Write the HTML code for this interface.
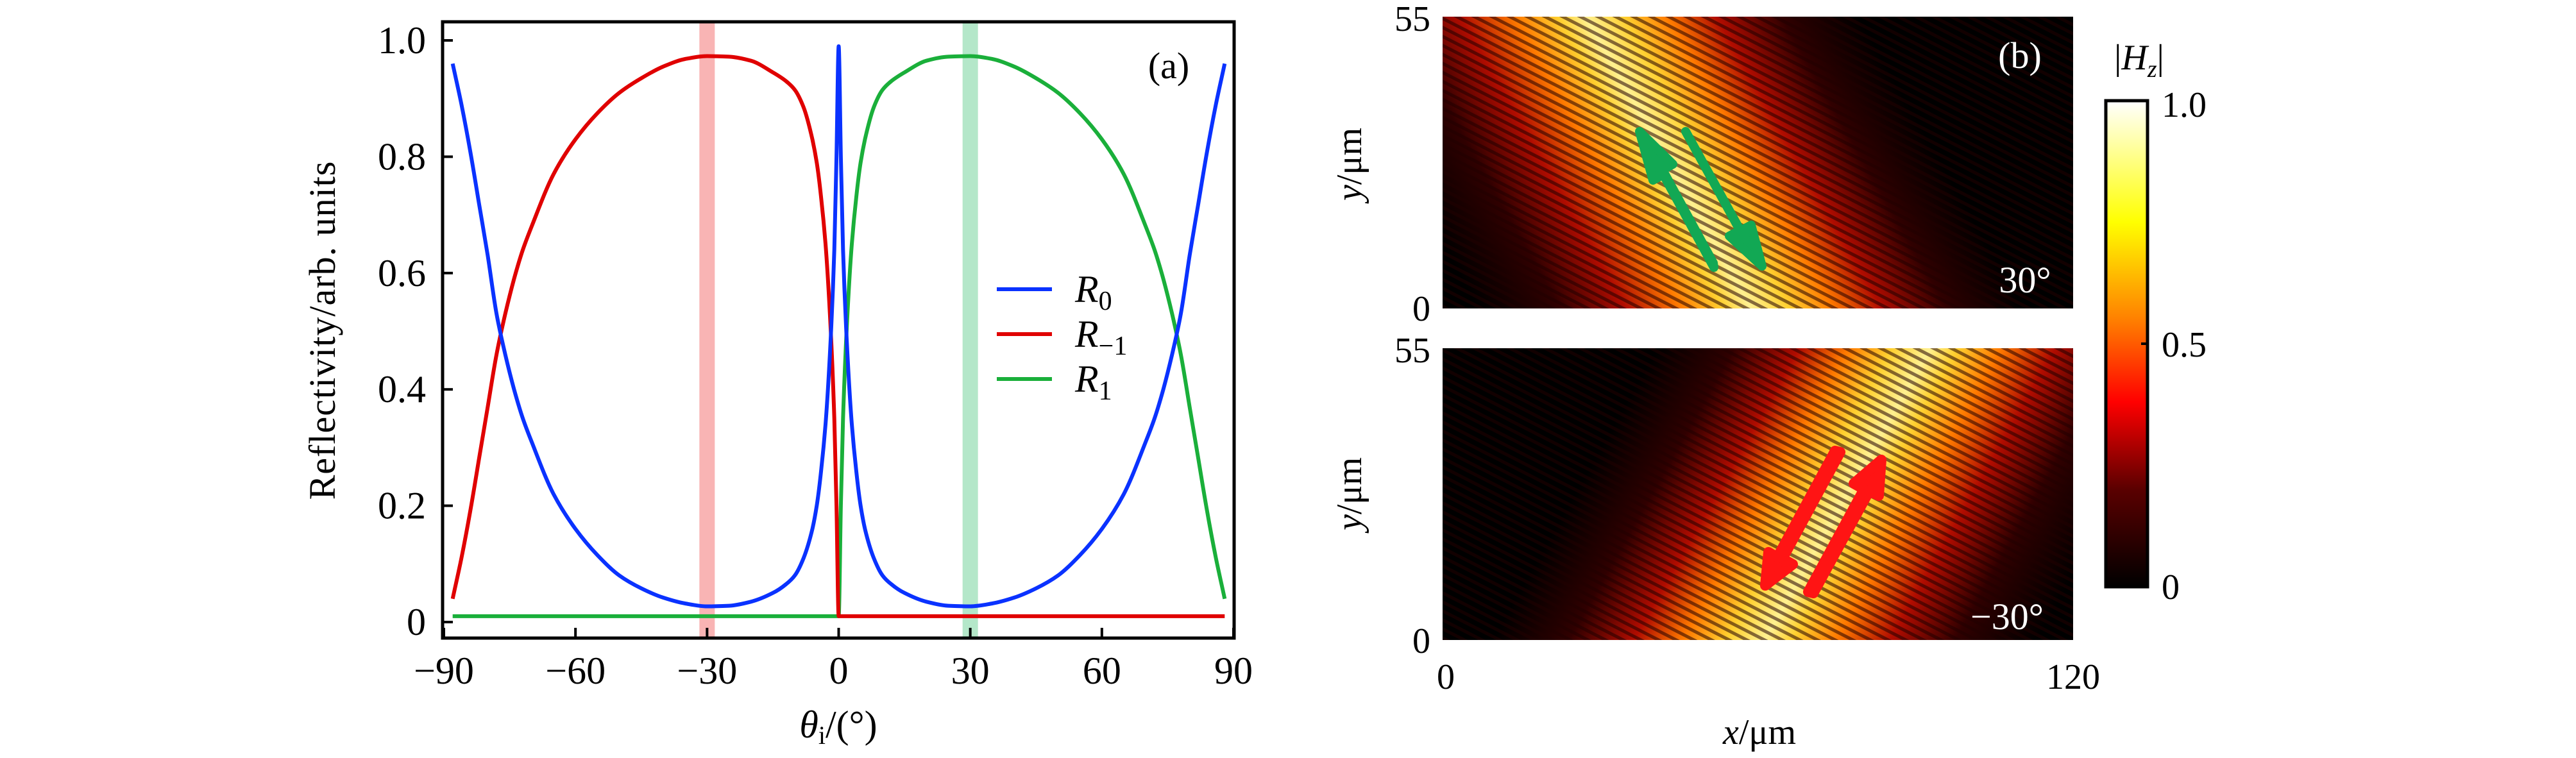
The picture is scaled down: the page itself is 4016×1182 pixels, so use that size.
<!DOCTYPE html>
<html><head><meta charset="utf-8">
<style>
html,body{margin:0;padding:0;background:#fff;}
svg{display:block;}
text{font-family:"Liberation Serif","DejaVu Serif",serif;}
</style></head>
<body>
<svg id="fig" width="4016" height="1182" viewBox="0 0 4016 1182" xmlns="http://www.w3.org/2000/svg" font-family="Liberation Serif, serif">
<defs>
  <linearGradient id="hotbar" x1="0" y1="1" x2="0" y2="0">
    <stop offset="0" stop-color="#000"/>
    <stop offset="0.2" stop-color="#5a0000"/>
    <stop offset="0.38" stop-color="#ff0000"/>
    <stop offset="0.55" stop-color="#ff8000"/>
    <stop offset="0.75" stop-color="#ffff00"/>
    <stop offset="1" stop-color="#ffffff"/>
  </linearGradient>
  <linearGradient id="beam" gradientUnits="userSpaceOnUse" x1="30" y1="410" x2="674" y2="45">
    <stop offset="0" stop-color="#000"/>
    <stop offset="0.15" stop-color="#300000"/>
    <stop offset="0.27" stop-color="#b00c00"/>
    <stop offset="0.37" stop-color="#ff7a00"/>
    <stop offset="0.45" stop-color="#ffd030"/>
    <stop offset="0.5" stop-color="#fff090"/>
    <stop offset="0.57" stop-color="#ffd030"/>
    <stop offset="0.65" stop-color="#ff7a00"/>
    <stop offset="0.74" stop-color="#b00c00"/>
    <stop offset="0.86" stop-color="#300000"/>
    <stop offset="1" stop-color="#000"/>
  </linearGradient>
  <linearGradient id="beam2" gradientUnits="userSpaceOnUse" x1="560" y1="0" x2="983" y2="0">
    <stop offset="0" stop-color="#3a0000" stop-opacity="0"/>
    <stop offset="0.35" stop-color="#3a0000" stop-opacity="0.9"/>
    <stop offset="0.6" stop-color="#3a0000" stop-opacity="0.7"/>
    <stop offset="1" stop-color="#200000" stop-opacity="0.3"/>
  </linearGradient>
  <pattern id="stripes" patternUnits="userSpaceOnUse" width="40" height="12.5" patternTransform="rotate(27)">
    <rect x="0" y="0" width="40" height="5" fill="#200000" opacity="0.55"/>
  </pattern>
  <clipPath id="hmclip"><rect x="0" y="0" width="983" height="455"/></clipPath>
</defs>

<g id="panelA"></g>

<g id="panelB">
  <g transform="translate(2249,26)">
    <g clip-path="url(#hmclip)">
      <rect width="983" height="455" fill="#000"/>
      <rect width="983" height="455" fill="url(#beam2)" transform="skewX(-20)"/>
      <rect x="-300" width="1600" height="455" fill="url(#beam)"/>
      <rect width="983" height="455" fill="url(#stripes)"/>
      <polygon points="423,391 344,246 328,255 307,179 359,230 343,239 422,384" fill="#12a854" stroke="#12a854" stroke-width="14" stroke-linejoin="round"/>
      <polygon points="379,179 464,334 481,325 498,389 447,342 464,333 379,179" fill="#12a854" stroke="#12a854" stroke-width="14" stroke-linejoin="round"/>
    </g>
    <text x="900" y="80" fill="#fff" font-size="58" text-anchor="middle">(b)</text>
    <text x="908" y="430" fill="#fff" font-size="58" text-anchor="middle">30°</text>
  </g>
  <g transform="translate(2249,543)">
    <g clip-path="url(#hmclip)">
      <rect width="983" height="455" fill="#000"/>
      <g transform="translate(983,0) scale(-1,1)">
        <rect width="983" height="455" fill="url(#beam2)" transform="skewX(-20)"/>
        <rect x="-300" width="1600" height="455" fill="url(#beam)"/>
      </g>
      <rect width="983" height="455" fill="url(#stripes)"/>
      <polygon points="620,162 530,328 546,337 503,370 508,318 522,326 612,160" fill="#ff1414" stroke="#ff1414" stroke-width="16" stroke-linejoin="round"/>
      <polygon points="570,380 657,220 641,211 684,174 680,230 665,223 578,382" fill="#ff1414" stroke="#ff1414" stroke-width="16" stroke-linejoin="round"/>
    </g>
    <text x="880" y="438" fill="#fff" font-size="58" text-anchor="middle">−30°</text>
  </g>
  <g font-size="56" fill="#000">
    <text x="2230" y="48" text-anchor="end">55</text>
    <text x="2230" y="500" text-anchor="end">0</text>
    <text x="2230" y="565" text-anchor="end">55</text>
    <text x="2230" y="1018" text-anchor="end">0</text>
    <text x="2254" y="1074" text-anchor="middle">0</text>
    <text x="3232" y="1074" text-anchor="middle">120</text>
    <text x="2743" y="1160" text-anchor="middle"><tspan font-style="italic">x</tspan>/μm</text>
    <text transform="translate(2122,256) rotate(-90)" text-anchor="middle"><tspan font-style="italic">y</tspan>/μm</text>
    <text transform="translate(2122,770) rotate(-90)" text-anchor="middle"><tspan font-style="italic">y</tspan>/μm</text>
  </g>
  <g>
    <rect x="3283" y="157" width="65" height="758" fill="url(#hotbar)" stroke="#000" stroke-width="5"/>
    <line x1="3348" y1="536" x2="3338" y2="536" stroke="#000" stroke-width="4"/>
    <g font-size="56">
      <text x="3370" y="182">1.0</text>
      <text x="3370" y="556">0.5</text>
      <text x="3370" y="934">0</text>
      <text x="3335" y="108" text-anchor="middle">|<tspan font-style="italic">H</tspan><tspan font-style="italic" font-size="38" dy="12">z</tspan><tspan dy="-12">|</tspan></text>
    </g>
  </g>
</g>

<script>
const angles = [-88,-86,-84,-82,-80,-78,-76,-74,-72,-70,-65,-60,-55,-50,-45,-40,-35,-30,-25,-20,-15,-12,-10,-8,-6,-5,-4,-3,-2,-1,-0.5,0,0.5,1,2,3,4,5,6,8,10,12,15,20,25,30,35,40,45,50,55,60,65,70,72,74,76,78,80,82,84,86,88];
const r0 = [0.96,0.89,0.81,0.72,0.63,0.53,0.46,0.40,0.35,0.31,0.22,0.16,0.115,0.08,0.058,0.042,0.032,0.027,0.028,0.035,0.05,0.065,0.08,0.11,0.16,0.2,0.26,0.34,0.46,0.64,0.8,0.99,0.8,0.64,0.46,0.34,0.26,0.2,0.16,0.11,0.08,0.065,0.05,0.035,0.028,0.027,0.032,0.042,0.058,0.08,0.115,0.16,0.22,0.31,0.35,0.40,0.46,0.53,0.63,0.72,0.81,0.89,0.96];
const rm1 = [0.04,0.11,0.19,0.28,0.37,0.46,0.53,0.59,0.64,0.68,0.77,0.83,0.875,0.91,0.935,0.955,0.968,0.973,0.972,0.965,0.945,0.93,0.915,0.885,0.83,0.79,0.73,0.65,0.53,0.35,0.2,0.01,0.01,0.01,0.01,0.01,0.01,0.01,0.01,0.01,0.01,0.01,0.01,0.01,0.01,0.01,0.01,0.01,0.01,0.01,0.01,0.01,0.01,0.01,0.01,0.01,0.01,0.01,0.01,0.01,0.01,0.01,0.01];
const rp1 = [0.01,0.01,0.01,0.01,0.01,0.01,0.01,0.01,0.01,0.01,0.01,0.01,0.01,0.01,0.01,0.01,0.01,0.01,0.01,0.01,0.01,0.01,0.01,0.01,0.01,0.01,0.01,0.01,0.01,0.01,0.01,0.01,0.2,0.35,0.53,0.65,0.73,0.79,0.83,0.885,0.915,0.93,0.945,0.965,0.972,0.973,0.968,0.955,0.935,0.91,0.875,0.83,0.77,0.68,0.64,0.59,0.53,0.46,0.37,0.28,0.19,0.11,0.04];
const xTicks = [-90,-60,-30,0,30,60,90];
const xTickLabels = ["−90","−60","−30","0","30","60","90"];
const yTicks = [0,0.2,0.4,0.6,0.8,1.0];
const yTickLabels = ["0","0.2","0.4","0.6","0.8","1.0"];
const bandAngles = [-30,30];
const seriesNames = ["R0","R-1","R1"];

const NS = "http://www.w3.org/2000/svg";
const L = 690, R = 1924, T = 34, B = 995;
const X = v => 692 + (v + 90) / 180 * (1923 - 692);
const Y = v => 970 - v * (970 - 63);
const g = document.getElementById('panelA');
function mk(tag, attrs, parent) {
  const e = document.createElementNS(NS, tag);
  for (const k in attrs) e.setAttribute(k, attrs[k]);
  (parent || g).appendChild(e);
  return e;
}
function span(parent, txt, attrs) {
  const t = mk('tspan', attrs || {}, parent);
  t.textContent = txt;
  return t;
}
const bandColors = ["rgba(246,140,140,0.65)", "rgba(130,215,165,0.6)"];
bandAngles.forEach((a, i) => {
  const r = mk('rect', {x: X(a) - 12, y: T, width: 24, height: B - T, fill: bandColors[i]});
  
  
});
// monotone cubic path (no overshoot)
function monoPath(xs, ys) {
  const n = xs.length, d = [], m = new Array(n);
  for (let i = 0; i < n - 1; i++) d.push((ys[i + 1] - ys[i]) / (xs[i + 1] - xs[i]));
  m[0] = d[0]; m[n - 1] = d[n - 2];
  for (let i = 1; i < n - 1; i++) {
    if (d[i - 1] * d[i] <= 0) m[i] = 0;
    else { const w1 = 2 * (xs[i + 1] - xs[i]) + (xs[i] - xs[i - 1]), w2 = (xs[i + 1] - xs[i]) + 2 * (xs[i] - xs[i - 1]); m[i] = (w1 + w2) / (w1 / d[i - 1] + w2 / d[i]); }
  }
  let p = 'M' + xs[0].toFixed(1) + ',' + ys[0].toFixed(1);
  for (let i = 0; i < n - 1; i++) {
    const h = xs[i + 1] - xs[i];
    p += ' C' + (xs[i] + h / 3).toFixed(1) + ',' + (ys[i] + m[i] * h / 3).toFixed(1) + ' ' + (xs[i + 1] - h / 3).toFixed(1) + ',' + (ys[i + 1] - m[i + 1] * h / 3).toFixed(1) + ' ' + xs[i + 1].toFixed(1) + ',' + ys[i + 1].toFixed(1);
  }
  return p;
}
function line(vals, color, name) {
  const xs = angles.map(X), ys = vals.map(Y);
  const p = mk('path', {d: monoPath(xs, ys), fill: 'none', stroke: color, 'stroke-width': 6, 'stroke-linejoin': 'round'});
  
  
}
line(rp1, '#1aaf3a', 'series-r1');
line(rm1, '#e00000', 'series-r-minus1');
line(r0, '#0a32ff', 'series-r0');
const frame = mk('rect', {x: L, y: T, width: R - L, height: B - T, fill: 'none', stroke: '#000', 'stroke-width': 5});


xTicks.forEach((t, i) => {
  const tk = mk('line', {x1: X(t), x2: X(t), y1: B, y2: B - 16, stroke: '#000', 'stroke-width': 4});
  
  
  const tx = mk('text', {x: X(t), y: 1066, 'font-size': 60, 'text-anchor': 'middle'});
  tx.textContent = xTickLabels[i];
  
  
});
yTicks.forEach((t, i) => {
  const tk = mk('line', {x1: L, x2: L + 16, y1: Y(t), y2: Y(t), stroke: '#000', 'stroke-width': 4});
  
  
  const tx = mk('text', {x: 664, y: Y(t) + 20, 'font-size': 60, 'text-anchor': 'end'});
  tx.textContent = yTickLabels[i];
  
  
});
const yl = mk('text', {transform: 'translate(522,515) rotate(-90)', 'font-size': 58, 'text-anchor': 'middle', 'letter-spacing': '1'});
yl.textContent = 'Reflectivity/arb. units';


const xl = mk('text', {x: 1307, y: 1150, 'font-size': 60, 'text-anchor': 'middle'});
span(xl, 'θ', {'font-style': 'italic'});
span(xl, 'i', {'font-size': 40, dy: 10});
span(xl, '/(°)', {dy: -10});


const pa = mk('text', {x: 1822, y: 122, 'font-size': 58, 'text-anchor': 'middle'});
pa.textContent = '(a)';


const legColors = ['#0a32ff', '#e00000', '#1aaf3a'];
const legSubs = ['0', '−1', '1'];
const legY = [451, 521, 591];
seriesNames.forEach((n, i) => {
  const lg = mk('line', {x1: 1554, x2: 1640, y1: legY[i], y2: legY[i], stroke: legColors[i], 'stroke-width': 6});
  
  
  const lt = mk('text', {x: 1676, y: legY[i] + 20, 'font-size': 60});
  span(lt, 'R', {'font-style': 'italic'});
  span(lt, legSubs[i], {'font-size': 42, dy: 12});
  
  
});
</script>
</svg>
</body></html>
